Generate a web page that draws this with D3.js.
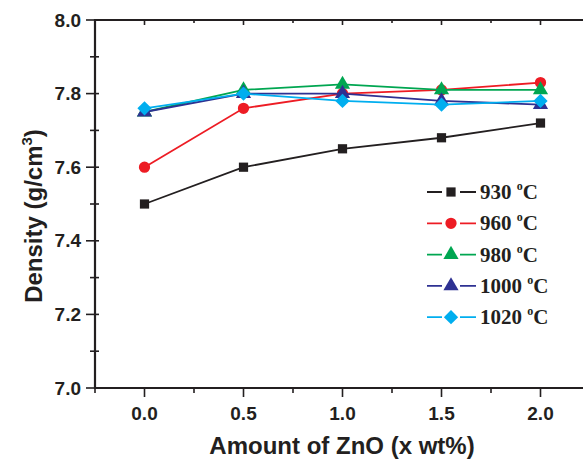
<!DOCTYPE html>
<html>
<head>
<meta charset="utf-8">
<script src="https://cdn.jsdelivr.net/npm/d3@7"></script>
<style>
  body { margin: 0; background: #fff; }
  svg { display: block; }
</style>
</head>
<body>
<script>
// data
var xValues = [0.0, 0.5, 1.0, 1.5, 2.0];
var temps = ["930", "960", "980", "1000", "1020"];
var d930  = [7.50, 7.60, 7.65, 7.68, 7.72];
var d960  = [7.60, 7.76, 7.80, 7.81, 7.83];
var d980  = [7.75, 7.81, 7.825, 7.81, 7.81];
var d1000 = [7.75, 7.80, 7.80, 7.78, 7.77];
var d1020 = [7.76, 7.80, 7.78, 7.77, 7.78];
var xTicks = [0.0, 0.5, 1.0, 1.5, 2.0];
var yTicks = [7.0, 7.2, 7.4, 7.6, 7.8, 8.0];

var colors = ["#231f20", "#ed1c24", "#00a651", "#2e3192", "#00aeef"];
var symbols = [d3.symbolSquare, d3.symbolCircle, d3.symbolTriangle, d3.symbolTriangle, d3.symbolDiamond2];
var symSize = [85, 100, 100, 100, 130];

var series = [d930, d960, d980, d1000, d1020].map(function(vals, i) {
  return { temp: temps[i], color: colors[i], symbol: symbols[i], size: symSize[i],
           pts: vals.map(function(v, j) { return { x: xValues[j], y: v }; }) };
});

var W = 583, H = 465;
var svg = d3.select("body").append("svg").attr("width", W).attr("height", H);

var mLeft = 95, mTop = 20, mBottom = 388, mRight = 590;
var x = d3.scaleLinear().domain([-0.25, 2.25]).range([mLeft, mRight]);
var y = d3.scaleLinear().domain([7.0, 8.0]).range([mBottom, mTop]);

var ink = "#231f20";
var sans = "Liberation Sans, Arial, sans-serif";

// ticks, major and minor
var g = svg.append("g").attr("stroke", ink).attr("stroke-width", 1.6);
d3.range(-0.25, 2.26, 0.25).forEach(function(v) {
  var major = Math.abs(v * 2 - Math.round(v * 2)) < 1e-6;
  g.append("line").attr("x1", x(v)).attr("x2", x(v))
    .attr("y1", mBottom).attr("y2", mBottom + (major ? 9 : 5));
  g.append("line").attr("x1", x(v)).attr("x2", x(v))
    .attr("y1", mTop).attr("y2", mTop + (major ? 5 : 3));
});
d3.range(7.0, 8.001, 0.1).forEach(function(v) {
  var major = Math.round(v * 10) % 2 === 0;
  g.append("line").attr("y1", y(v)).attr("y2", y(v))
    .attr("x1", mLeft).attr("x2", mLeft - (major ? 9 : 5));
  g.append("line").attr("y1", y(v)).attr("y2", y(v))
    .attr("x1", mLeft).attr("x2", mLeft + 4);
});

// frame
svg.append("path")
  .attr("d", "M" + mRight + "," + mTop + "H" + mLeft + "V" + mBottom + "H" + mRight)
  .attr("fill", "none").attr("stroke", ink).attr("stroke-width", 2.2);

// tick labels
svg.append("g").selectAll("text").data(yTicks).enter().append("text")
  .attr("x", mLeft - 14).attr("y", function(d) { return y(d) + 6.5; })
  .attr("text-anchor", "end")
  .attr("font-family", sans).attr("font-weight", "bold")
  .attr("font-size", 19).attr("fill", ink)
  .text(function(d) { return d.toFixed(1); });

svg.append("g").selectAll("text").data(xTicks).enter().append("text")
  .attr("x", function(d) { return x(d); }).attr("y", mBottom + 32)
  .attr("text-anchor", "middle")
  .attr("font-family", sans).attr("font-weight", "bold")
  .attr("font-size", 19).attr("fill", ink)
  .text(function(d) { return d.toFixed(1); });

// axis titles
svg.append("text").attr("x", 342).attr("y", 454).attr("text-anchor", "middle")
  .attr("font-family", sans).attr("font-weight", "bold")
  .attr("font-size", 24).attr("fill", ink)
  .text("Amount of ZnO (x wt%)");

var yt = svg.append("text").attr("transform", "translate(42,216) rotate(-90)")
  .attr("text-anchor", "middle")
  .attr("font-family", sans).attr("font-weight", "bold")
  .attr("font-size", 24).attr("fill", ink);
yt.append("tspan").text("Density (g/cm");
yt.append("tspan").attr("font-size", 15).attr("dy", -10).text("3");
yt.append("tspan").attr("dy", 10).text(")");

// lines + markers
var line = d3.line().x(function(d) { return x(d.x); }).y(function(d) { return y(d.y); });
series.forEach(function(s) {
  svg.append("path").datum(s.pts).attr("d", line)
    .attr("fill", "none").attr("stroke", s.color).attr("stroke-width", 1.8);
  svg.append("g").selectAll("path").data(s.pts).enter().append("path")
    .attr("transform", function(d) { return "translate(" + x(d.x) + "," + y(d.y) + ")"; })
    .attr("d", d3.symbol().type(s.symbol).size(s.size))
    .attr("fill", s.color);
});

// legend
var leg = svg.append("g");
series.forEach(function(s, i) {
  var ly = 192 + i * 31.3;
  leg.append("line").attr("x1", 427).attr("x2", 476).attr("y1", ly).attr("y2", ly)
    .attr("stroke", s.color).attr("stroke-width", 1.8);
  leg.append("rect").attr("x", 442).attr("y", ly - 6).attr("width", 18).attr("height", 12).attr("fill", "#fff");
  leg.append("path").attr("transform", "translate(451," + ly + ")")
    .attr("d", d3.symbol().type(s.symbol).size(s.size)).attr("fill", s.color);
  var t = leg.append("text").attr("x", 480).attr("y", ly + 7)
    .attr("font-family", "Liberation Serif, Times New Roman, serif").attr("font-weight", "bold")
    .attr("font-size", 21).attr("fill", ink);
  t.append("tspan").text(s.temp + " ");
  t.append("tspan").attr("font-size", 12).attr("dy", -9).text("o");
  t.append("tspan").attr("dy", 9).text("C");
});
</script>
</body>
</html>
